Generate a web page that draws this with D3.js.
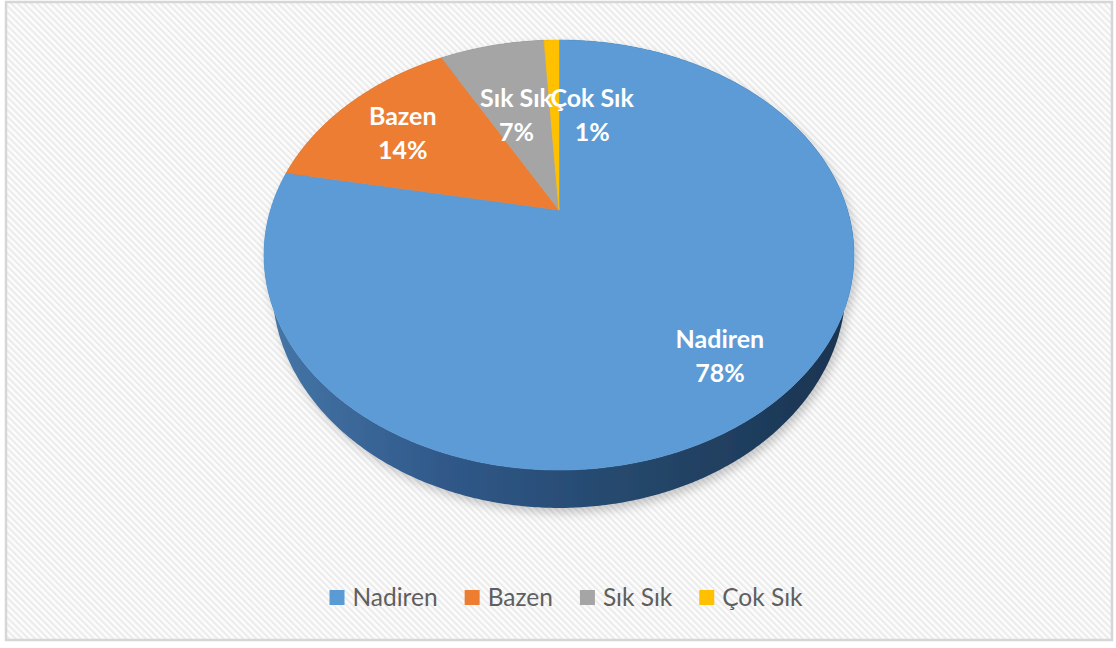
<!DOCTYPE html>
<html>
<head>
<meta charset="utf-8">
<script src="https://cdn.jsdelivr.net/npm/d3@7"></script>
<style>
  html, body { margin: 0; padding: 0; background: #ffffff; }
  svg { display: block; }
</style>
</head>
<body>
<svg id="chart" width="1116" height="648"></svg>
<script>
// Survey answers and their counts (share of respondents)
const categories = ["Nadiren", "Bazen", "Sık Sık", "Çok Sık"];
const values = [78, 14, 7, 1];
const sliceColors = ["#5B9BD5", "#ED7D31", "#A5A5A5", "#FFC000"];
const sideColors = [
  ["#4677a8", "#30598a", "#244669", "#1a3350"],
  ["#b35a1c", "#8f4612", "#733810", "#5a2b0b"],
  ["#7c7c7c", "#666666", "#555555", "#444444"],
  ["#c49200", "#a37900", "#856300", "#6a4f00"]
];

const W = 1116, H = 648;
const svg = d3.select("#chart");
const defs = svg.append("defs");

// Frame background: fine diagonal hatching
const pat = defs.append("pattern")
  .attr("id", "hatch").attr("patternUnits", "userSpaceOnUse")
  .attr("width", 4.6).attr("height", 4.6)
  .attr("patternTransform", "rotate(-45)");
pat.append("rect").attr("width", 4.6).attr("height", 4.6).attr("fill", "#fcfcfc");
pat.append("rect").attr("width", 2).attr("height", 4.6).attr("fill", "#ebebeb");

svg.append("rect")
  .attr("x", 6).attr("y", 2).attr("width", 1106).attr("height", 638)
  .attr("fill", "url(#hatch)").attr("stroke", "#d6d6d6").attr("stroke-width", 2.5);

// Soft shadow under the pie
const shadow = defs.append("filter").attr("id", "pieShadow")
  .attr("x", "-10%").attr("y", "-10%").attr("width", "120%").attr("height", "125%");
shadow.append("feDropShadow").attr("dx", 3).attr("dy", 5)
  .attr("stdDeviation", 5).attr("flood-color", "#000").attr("flood-opacity", 0.2);

// Perspective projection of the tilted disc.
// phi: angle clockwise from the far point (radians), r: radial fraction, depth: 0 top, 1 bottom
const cx = 559, A = 288.5, persp = 0.2093, ya = -161.63, yb = 210, thick = 30, shrink = 0.028;
function project(phi, r, depth) {
  const X = r * Math.sin(phi), Z = r * Math.cos(phi);
  const den = 1 + persp * Z;
  const k = 1 - shrink * depth;
  return [cx + k * A * X / den, (ya * Z + yb) / den + depth * thick / den];
}
function arcPoints(a0, a1, depth) {
  const n = Math.max(2, Math.ceil((a1 - a0) / (Math.PI / 360)));
  return d3.range(n + 1).map(i => project(a0 + (a1 - a0) * i / n, 1, depth));
}

const pie = d3.pie().sort(null).value(d => d.value);
const arcs = pie(categories.map((c, i) => ({ name: c, value: values[i], idx: i })));
const total = d3.sum(values);

const g = svg.append("g").attr("filter", "url(#pieShadow)");
const line = d3.line();

// Side walls, shaded from left to right
arcs.forEach(a => {
  const gid = "side" + a.data.idx;
  const grad = defs.append("linearGradient").attr("id", gid)
    .attr("gradientUnits", "userSpaceOnUse")
    .attr("x1", cx - A * 1.03).attr("x2", cx + A * 1.03).attr("y1", 0).attr("y2", 0);
  const sc = sideColors[a.data.idx];
  [0, 0.3, 0.65, 1].forEach((o, k) => grad.append("stop").attr("offset", o).attr("stop-color", sc[k]));
  const top = arcPoints(a.startAngle, a.endAngle, 0);
  const bot = arcPoints(a.startAngle, a.endAngle, 1).reverse();
  g.append("path").attr("d", line(top.concat(bot)) + "Z")
    .attr("fill", "url(#" + gid + ")");
});

// Top faces of the slices
arcs.forEach(a => {
  const pts = [project(0, 0, 0)].concat(arcPoints(a.startAngle, a.endAngle, 0));
  g.append("path").attr("d", line(pts) + "Z")
    .attr("fill", sliceColors[a.data.idx])
    .attr("stroke", sliceColors[a.data.idx]).attr("stroke-width", 0.6);
});

// Data labels: category name and rounded share
const labelNudge = [[4, 11], [4, 6], [10, 34], [39, 38]];
const labels = svg.append("g")
  .attr("font-family", "Lato, 'Open Sans', sans-serif")
  .attr("font-weight", "bold").attr("font-size", 25)
  .attr("fill", "#ffffff").attr("text-anchor", "middle");
arcs.forEach(a => {
  const mid = (a.startAngle + a.endAngle) / 2;
  const p = project(mid, 0.75, 0);
  const nx = p[0] + labelNudge[a.data.idx][0];
  const ny = p[1] + labelNudge[a.data.idx][1];
  const t = labels.append("text").attr("x", nx);
  t.append("tspan").attr("x", nx).attr("y", ny - 8).text(a.data.name);
  t.append("tspan").attr("x", nx).attr("y", ny + 26)
    .text(Math.round(a.data.value / total * 100) + "%");
});

// Legend along the bottom
const legend = svg.append("g")
  .attr("font-family", "Lato, 'Open Sans', sans-serif")
  .attr("font-size", 24.5).attr("fill", "#5f5f5f");
const items = categories.map((c, i) => {
  const it = legend.append("g");
  it.append("rect").attr("width", 15).attr("height", 15).attr("y", 590).attr("fill", sliceColors[i]);
  const tx = it.append("text").attr("x", 23).attr("y", 606).text(c);
  return { it, w: 23 + tx.node().getComputedTextLength() };
});
const gap = 27;
const legendW = d3.sum(items, d => d.w) + gap * (items.length - 1);
let x0 = 566 - legendW / 2;
items.forEach(d => { d.it.attr("transform", `translate(${x0},0)`); x0 += d.w + gap; });
</script>
</body>
</html>
